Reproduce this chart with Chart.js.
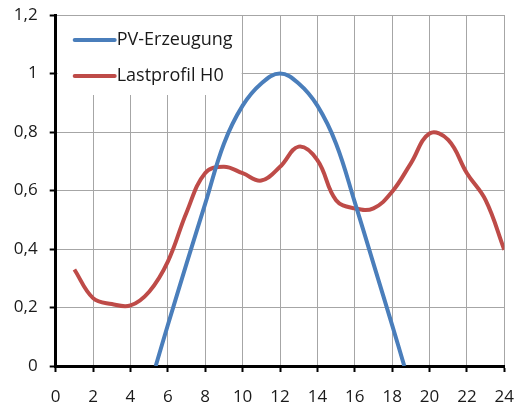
<!DOCTYPE html>
<html>
<head>
<meta charset="utf-8">
<script src="https://cdn.jsdelivr.net/npm/chart.js@4/dist/chart.umd.min.js"></script>
<style>
    html, body { margin: 0; padding: 0; background: #fff; }
    #wrap { width: 515px; height: 412px; }
</style>
</head>
<body>
<div id="wrap"><canvas id="chart"></canvas></div>
<script>
/* ─── Data ─────────────────────────────────────────────────────── */
const loadHours  = [1, 2, 3, 4, 5, 6, 7, 8, 9, 10, 11, 12, 13, 14, 15, 16, 17, 18, 19, 20, 21, 22, 23, 24];
const loadValues = [0.33, 0.232, 0.212, 0.207, 0.254, 0.357, 0.525, 0.66, 0.681, 0.659, 0.634, 0.681,
                    0.75, 0.704, 0.567, 0.539, 0.539, 0.596, 0.693, 0.795, 0.773, 0.659, 0.567, 0.397];

const pvHours  = [5.35, 6, 7, 8, 9, 10, 11, 12, 13, 14, 15, 16, 17, 18, 18.65];
const pvValues = [0, 0.14, 0.35, 0.555, 0.76, 0.89, 0.966, 1.0, 0.966, 0.89, 0.76, 0.56, 0.35, 0.14, 0];

const seriesNames = ['PV-Erzeugung', 'Lastprofil H0'];
const xTicks = { min: 0, max: 24, step: 2 };
const yTicks = { min: 0, max: 1.2, step: 0.2 };

const FONT = '"Open Sans", sans-serif';
const TEXT = '#1a1a1a';

const toPoints = (xs, ys) => xs.map((x, i) => ({ x, y: ys[i] }));
const commaLabel = v => {
    const r = Math.round(v * 10) / 10;
    return String(r).replace('.', ',');
};

/* ─── Legend drawn inside the plot, over the grid ──────────────── */
const innerLegend = {
    id: 'innerLegend',
    beforeDatasetsDraw(chart) {
        const ctx = chart.ctx;
        const a   = chart.chartArea;
        ctx.save();
        ctx.fillStyle = '#fff';
        ctx.fillRect(a.left + 2, a.top + 1, 184, 79);
        ctx.font = '18px ' + FONT;
        ctx.textBaseline = 'middle';
        chart.data.datasets.forEach((ds, i) => {
            const y = a.top + 25 + i * 36;
            ctx.strokeStyle = ds.borderColor;
            ctx.lineWidth   = 4;
            ctx.lineCap     = 'round';
            ctx.beginPath();
            ctx.moveTo(a.left + 19, y);
            ctx.lineTo(a.left + 59, y);
            ctx.stroke();
            ctx.fillStyle = TEXT;
            ctx.fillText(ds.label, a.left + 61, y);
        });
        ctx.restore();
    }
};

new Chart(document.getElementById('chart'), {
    type: 'line',
    data: {
        datasets: [
            {
                label: seriesNames[0],
                data: toPoints(pvHours, pvValues),
                borderColor: '#4a7ebb',
                borderWidth: 4,
                tension: 0.4,
                pointRadius: 0,
                fill: false,
            },
            {
                label: seriesNames[1],
                data: toPoints(loadHours, loadValues),
                borderColor: '#be4b48',
                borderWidth: 4,
                tension: 0.4,
                pointRadius: 0,
                fill: false,
            },
        ],
    },
    options: {
        responsive: true,
        maintainAspectRatio: false,
        animation: false,
        layout: { padding: { top: 15, right: 10.7, left: 0, bottom: 0 } },
        plugins: { legend: { display: false }, tooltip: { enabled: false } },
        scales: {
            x: {
                type: 'linear',
                min: xTicks.min,
                max: xTicks.max,
                afterFit: s => { s.height = 46; s.paddingLeft = 0; s.paddingRight = 0; },
                ticks: {
                    stepSize: xTicks.step,
                    color: TEXT,
                    font: { family: FONT, size: 17 },
                    padding: 15,
                    maxRotation: 0,
                },
                grid: { color: '#a6a6a6', lineWidth: 1, tickColor: '#000', tickLength: 6, tickWidth: 2 },
                border: { color: '#000', width: 3 },
            },
            y: {
                min: yTicks.min,
                max: yTicks.max,
                afterFit: s => { s.width = 55.7; s.paddingTop = 0; s.paddingBottom = 0; },
                ticks: {
                    stepSize: yTicks.step,
                    color: TEXT,
                    font: { family: FONT, size: 17 },
                    padding: 12,
                    callback: v => commaLabel(v),
                },
                grid: { color: '#a6a6a6', lineWidth: 1, tickColor: '#000', tickLength: 6, tickWidth: 2 },
                border: { color: '#000', width: 3 },
            },
        },
    },
    plugins: [innerLegend],
});
</script>
</body>
</html>
